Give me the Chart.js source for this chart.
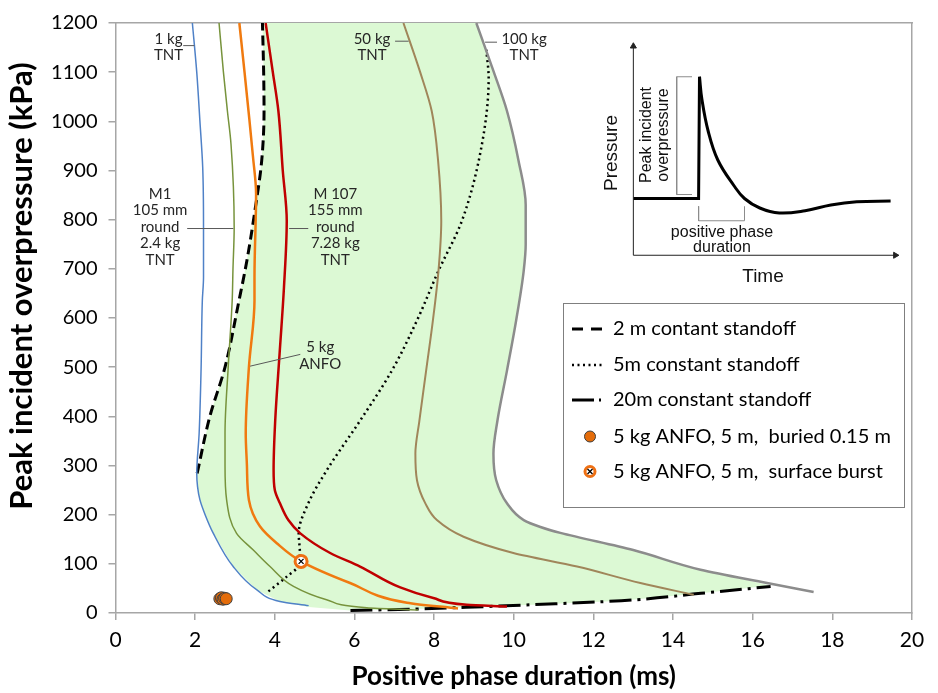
<!DOCTYPE html>
<html>
<head>
<meta charset="utf-8">
<title>Peak incident overpressure vs positive phase duration</title>
<script src="https://cdn.jsdelivr.net/npm/chart.js@4.4.1/dist/chart.umd.min.js"></script>
<style>
  body { margin: 0; background: #fff; }
  #wrap { position: relative; width: 938px; height: 693px; }
  #chartInset { position: absolute; left: 600px; top: 30px; }
</style>
</head>
<body>
<div id="wrap">
  <canvas id="chartMain" width="938" height="693"></canvas>
  <canvas id="chartInset" width="310" height="260"></canvas>
</div>
<script>
// charge curves: positive phase duration (ms) vs peak overpressure (kPa)
const tnt1X = [1.93, 2.04, 2.12, 2.19, 2.21, 2.21, 2.18, 2.15, 2.1, 2.04, 2.06, 2.12, 2.25, 2.45, 2.95, 3.55, 4.13, 4.85];
const tnt1Y = [1200, 1100, 1000, 906, 784, 683, 635, 500, 365, 284, 257, 230, 200, 163, 95, 47, 23.5, 15];

const m1X = [2.6, 2.71, 2.81, 2.9, 2.98, 2.95, 2.93, 2.83, 2.75, 2.75, 2.79, 3.04, 3.46, 3.88, 4.47, 5.3, 6.31, 7.6];
const m1Y = [1200, 1100, 1021, 954, 784, 700, 635, 500, 365, 300, 230, 162, 128, 94.5, 54, 27, 10.7, 6];

const anfoX = [3.11, 3.24, 3.34, 3.45, 3.53, 3.49, 3.49, 3.35, 3.27, 3.3, 3.35, 3.63, 4.05, 4.66, 5.89, 7.32, 8.6];
const anfoY = [1200, 1100, 1021, 930, 852, 683, 635, 500, 365, 300, 230, 176, 142, 105, 61, 21, 9];

const m107X = [3.77, 3.95, 4.09, 4.2, 4.3, 4.23, 4.12, 4.01, 3.97, 4.0, 4.13, 4.34, 4.64, 5.39, 6.14, 7.15, 7.98, 8.82, 9.83];
const m107Y = [1200, 1100, 1021, 900, 798, 662, 527, 391, 291, 250, 223, 189, 162, 122, 94.5, 52, 30.4, 16.8, 13];

const tnt50X = [7.23, 7.65, 7.94, 8.1, 8.18, 8.11, 7.97, 7.8, 7.63, 7.53, 7.57, 7.78, 8.07, 8.74, 9.99, 11.59, 13.18, 14.52];
const tnt50Y = [1200, 1100, 1021, 920, 798, 696, 595, 493, 391, 324, 270, 223, 189, 155, 122, 94.5, 61, 37];

const tnt100X = [9.06, 9.5, 9.83, 10.12, 10.3, 10.3, 10.25, 10.06, 9.83, 9.59, 9.49, 9.56, 9.83, 10.25, 10.67, 11.17, 13.0, 14.69, 16.36, 17.53];
const tnt100Y = [1200, 1100, 1021, 920, 830, 750, 696, 595, 493, 391, 324, 270, 223, 189, 175, 163, 128, 88, 61, 42.6];

// constant standoff lines
const standoff2X = [2.05, 2.37, 2.75, 3.1, 3.3, 3.5, 3.67, 3.73, 3.72, 3.69];
const standoff2Y = [284, 400, 500, 635, 717, 818, 919, 1021, 1100, 1200];

const standoff5X = [3.84, 4.3, 4.63, 4.63, 4.6, 4.84, 5.31, 6.14, 6.94, 7.57, 8.11, 8.7, 9.2, 9.37, 9.31];
const standoff5Y = [44, 74, 101, 122, 162, 223, 291, 391, 493, 595, 696, 798, 953, 1088, 1146];

const standoff20X = [5.9, 7.5, 8.8, 10.5, 12.7, 14.7, 16.45];
const standoff20Y = [5, 8, 11.5, 17, 25, 40, 54];

// shaded region outline
const areaX = [3.69, 3.72, 3.73, 3.67, 3.5, 3.3, 3.1, 2.75, 2.37, 2.05, 2.06, 2.12, 2.25, 2.45, 2.95, 3.55, 4.13, 4.85,
  5.9, 7.5, 8.8, 10.5, 12.7, 14.7, 16.45,
  14.69, 13.0, 11.17, 10.67, 10.25, 9.83, 9.56, 9.49, 9.59, 9.83, 10.06, 10.25, 10.3, 10.3, 10.12, 9.83, 9.5, 9.06];
const areaY = [1200, 1100, 1021, 919, 818, 717, 635, 500, 400, 284, 257, 230, 200, 163, 95, 47, 23.5, 12,
  5, 8, 11.5, 17, 25, 40, 56,
  88, 128, 163, 175, 189, 223, 270, 324, 391, 493, 595, 696, 750, 830, 920, 1021, 1100, 1200];

// measured points
const buriedX = [2.62, 2.66, 2.7, 2.74, 2.78];
const buriedY = [29, 31, 28, 30, 29];
const surfaceX = [4.66];
const surfaceY = [105];

// axis ticks
const xTickStep = 2;
const yTickStep = 100;

// inset sketch (arbitrary 0-100 units)
const waveStepX = [9.45, 31.2, 31.5];
const waveStepY = [34.6, 34.6, 83.3];
const waveDecayX = [31.5, 32.3, 34.4, 37.6, 43, 46.5, 51.6, 58.1, 66.7, 75.3, 83.9, 95.2];
const waveDecayY = [83.3, 74.3, 61.5, 50, 39.7, 34.6, 30.8, 28.8, 29.7, 32, 33.3, 33.6];

function toPoints(xs, ys) {
  return xs.map((x, i) => ({ x: x, y: ys[i] }));
}

// curves run top to bottom, so spline them along y
function curve(label, xs, ys, color, width, dash) {
  return {
    label: label,
    data: toPoints(xs, ys),
    showLine: true,
    indexAxis: 'y',
    cubicInterpolationMode: 'monotone',
    borderColor: color,
    borderWidth: width,
    borderDash: dash || [],
    pointRadius: 0,
    fill: false,
    order: 2
  };
}

const font = 'Lato, "Open Sans", sans-serif';

// labels next to the curves (data coords of first line centre)
const notes = [
  { text: ['1 kg', 'TNT'], x: 1.33, y: 1168, lead: [1.70, 1154, 1.98, 1154] },
  { text: ['50 kg', 'TNT'], x: 6.44, y: 1168, lead: [7.02, 1163, 7.36, 1163] },
  { text: ['100 kg', 'TNT'], x: 10.26, y: 1168, lead: [9.28, 1161, 9.58, 1161] },
  { text: ['M1', '105 mm', 'round', '2.4 kg', 'TNT'], x: 1.12, y: 852, lead: [1.80, 782, 2.96, 782] },
  { text: ['M 107', '155 mm', 'round', '7.28 kg', 'TNT'], x: 5.52, y: 852, lead: [4.36, 782, 4.84, 782] },
  { text: ['5 kg', 'ANFO'], x: 5.14, y: 540, lead: [3.38, 502, 4.64, 526] }
];

const notesPlugin = {
  id: 'notes',
  afterDatasetsDraw(chart) {
    const ctx = chart.ctx;
    const xs = chart.scales.x, ys = chart.scales.y;
    ctx.save();
    ctx.font = '15px ' + font;
    ctx.fillStyle = '#262626';
    ctx.textAlign = 'center';
    ctx.textBaseline = 'middle';
    notes.forEach(n => {
      const px = xs.getPixelForValue(n.x), py = ys.getPixelForValue(n.y);
      n.text.forEach((t, i) => ctx.fillText(t, px, py + i * 16.5));
      ctx.strokeStyle = '#595959';
      ctx.lineWidth = 1;
      ctx.beginPath();
      ctx.moveTo(xs.getPixelForValue(n.lead[0]), ys.getPixelForValue(n.lead[1]));
      ctx.lineTo(xs.getPixelForValue(n.lead[2]), ys.getPixelForValue(n.lead[3]));
      ctx.stroke();
    });

    // y axis title sits a little above the middle in the original
    ctx.fillStyle = '#000';
    ctx.font = 'bold 31px ' + font;
    ctx.translate(22, 286);
    ctx.rotate(-Math.PI / 2);
    ctx.fillText('Peak incident overpressure (kPa)', 0, 0);
    ctx.restore();
  }
};

// legend box
const legendItems = [
  '2 m contant standoff',
  '5m constant standoff',
  '20m constant standoff',
  '5 kg ANFO, 5 m,  buried 0.15 m',
  '5 kg ANFO, 5 m,  surface burst'
];

const legendPlugin = {
  id: 'boxLegend',
  afterDraw(chart) {
    const ctx = chart.ctx;
    const bx = 563, by = 303, bw = 341, bh = 204;
    ctx.save();
    ctx.fillStyle = '#fff';
    ctx.fillRect(bx, by, bw, bh);
    ctx.strokeStyle = '#7f7f7f';
    ctx.lineWidth = 1;
    ctx.strokeRect(bx + 0.5, by + 0.5, bw, bh);

    const rowY = [329, 365, 400, 436.5, 471.5];
    ctx.strokeStyle = '#000';
    ctx.lineWidth = 3;
    ctx.setLineDash([11, 8]);
    ctx.beginPath(); ctx.moveTo(572, rowY[0]); ctx.lineTo(605, rowY[0]); ctx.stroke();
    ctx.lineWidth = 2.5;
    ctx.setLineDash([2, 3.5]);
    ctx.beginPath(); ctx.moveTo(572, rowY[1]); ctx.lineTo(605, rowY[1]); ctx.stroke();
    ctx.lineWidth = 3;
    ctx.setLineDash([22, 5, 2, 20]);
    ctx.beginPath(); ctx.moveTo(572, rowY[2]); ctx.lineTo(605, rowY[2]); ctx.stroke();
    ctx.setLineDash([]);

    ctx.fillStyle = '#e46c0a';
    ctx.strokeStyle = '#404040';
    ctx.lineWidth = 1;
    ctx.beginPath(); ctx.arc(590, rowY[3], 5.5, 0, Math.PI * 2); ctx.fill(); ctx.stroke();

    ctx.fillStyle = '#fff';
    ctx.strokeStyle = '#ee7014';
    ctx.lineWidth = 3;
    ctx.beginPath(); ctx.arc(590, rowY[4], 5, 0, Math.PI * 2); ctx.fill(); ctx.stroke();
    ctx.strokeStyle = '#000';
    ctx.lineWidth = 1.3;
    ctx.beginPath();
    ctx.moveTo(587.5, rowY[4] - 2.5); ctx.lineTo(592.5, rowY[4] + 2.5);
    ctx.moveTo(592.5, rowY[4] - 2.5); ctx.lineTo(587.5, rowY[4] + 2.5);
    ctx.stroke();

    ctx.fillStyle = '#000';
    ctx.font = '20px ' + font;
    ctx.textAlign = 'left';
    ctx.textBaseline = 'middle';
    legendItems.forEach((t, i) => ctx.fillText(t, 613, rowY[i]));
    ctx.restore();
  }
};

const axisGray = '#a6a6a6';

new Chart(document.getElementById('chartMain'), {
  type: 'scatter',
  data: {
    datasets: [
      {
        label: 'area',
        data: toPoints(areaX, areaY),
        showLine: true,
        borderWidth: 0,
        borderColor: 'rgba(0,0,0,0)',
        backgroundColor: '#dcf9d4',
        fill: 'shape',
        pointRadius: 0,
        tension: 0,
        order: 10
      },
      curve('1 kg TNT', tnt1X, tnt1Y, '#4f81c7', 1.5),
      curve('M1 105 mm', m1X, m1Y, '#77933c', 1.5),
      curve('5 kg ANFO', anfoX, anfoY, '#f07a10', 2.5),
      curve('M 107 155 mm', m107X, m107Y, '#c00000', 2.5),
      curve('50 kg TNT', tnt50X, tnt50Y, '#a0865a', 2),
      curve('100 kg TNT', tnt100X, tnt100Y, '#8c8c8c', 2.5),
      curve('2 m contant standoff', standoff2X, standoff2Y, '#000', 3, [10, 5]),
      curve('5m constant standoff', standoff5X, standoff5Y, '#000', 2.5, [2, 3.5]),
      curve('20m constant standoff', standoff20X, standoff20Y, '#000', 3, [22, 6, 3, 6]),
      {
        label: '5 kg ANFO, 5 m, buried 0.15 m',
        data: toPoints(buriedX, buriedY),
        pointRadius: 6,
        pointBackgroundColor: '#e46c0a',
        pointBorderColor: '#404040',
        pointBorderWidth: 1,
        order: 1
      },
      {
        label: '5 kg ANFO, 5 m, surface burst',
        data: toPoints(surfaceX, surfaceY),
        pointRadius: 6,
        pointBackgroundColor: '#fff',
        pointBorderColor: '#ee7014',
        pointBorderWidth: 3,
        order: 1
      },
      {
        label: 'surface burst cross',
        data: toPoints(surfaceX, surfaceY),
        pointStyle: 'crossRot',
        pointRadius: 3.5,
        pointBorderColor: '#000',
        pointBorderWidth: 1.3,
        order: 0
      }
    ]
  },
  options: {
    responsive: false,
    animation: false,
    devicePixelRatio: 1,
    layout: { padding: { top: 22, right: 26, left: 0, bottom: 0 } },
    plugins: { legend: { display: false }, tooltip: { enabled: false } },
    scales: {
      x: {
        type: 'linear', position: 'bottom', min: 0, max: 20,
        ticks: { stepSize: xTickStep, color: '#000', font: { family: font, size: 21 }, padding: 8 },
        grid: { drawOnChartArea: false, tickLength: 7, color: axisGray, lineWidth: 1.5 },
        border: { color: axisGray, width: 1.5 },
        title: { display: true, text: 'Positive phase duration (ms)', color: '#000',
          font: { family: font, size: 26, weight: 'bold' }, padding: { top: 0, bottom: 1 } },
        afterFit: s => { s.height = 80; }
      },
      y: {
        type: 'linear', position: 'left', min: 0, max: 1200,
        ticks: { stepSize: yTickStep, color: '#000', font: { family: font, size: 20 }, padding: 11,
          callback: v => String(v) },
        grid: { drawOnChartArea: false, tickLength: 7, color: axisGray, lineWidth: 1.5 },
        border: { color: axisGray, width: 1.5 },
        afterFit: s => { s.width = 115.5; }
      },
      xTop: {
        type: 'linear', position: 'top', min: 0, max: 20,
        ticks: { display: false }, grid: { display: false },
        border: { color: axisGray, width: 1.5 },
        afterFit: s => { s.height = 0; }
      },
      yRight: {
        type: 'linear', position: 'right', min: 0, max: 1200,
        ticks: { display: false }, grid: { display: false },
        border: { color: axisGray, width: 1.5 },
        afterFit: s => { s.width = 0; }
      }
    }
  },
  plugins: [notesPlugin, legendPlugin]
});

// inset: pressure-time sketch
const insetText = {
  id: 'insetText',
  afterDraw(chart) {
    const ctx = chart.ctx;
    ctx.save();
    ctx.fillStyle = '#111';
    ctx.textAlign = 'center';
    ctx.textBaseline = 'middle';
    ctx.font = '19px "Liberation Sans", Arial, sans-serif';
    ctx.fillText('Time', 163, 247);
    ctx.save();
    ctx.translate(12, 123);
    ctx.rotate(-Math.PI / 2);
    ctx.fillText('Pressure', 0, 0);
    ctx.restore();
    ctx.font = '16px "Liberation Sans", Arial, sans-serif';
    ctx.fillText('positive phase', 122, 203);
    ctx.fillText('duration', 122, 218);
    ctx.save();
    ctx.translate(47, 105);
    ctx.rotate(-Math.PI / 2);
    ctx.fillText('Peak incident', 0, 0);
    ctx.fillText('overpressure', 0, 16.5);
    ctx.restore();
    ctx.restore();
  }
};

function insetLine(xs, ys, color, width, tension) {
  return { data: toPoints(xs, ys), showLine: true, borderColor: color, borderWidth: width,
    pointRadius: 0, tension: tension || 0, fill: false };
}

new Chart(document.getElementById('chartInset'), {
  type: 'scatter',
  data: {
    datasets: [
      Object.assign(insetLine([9.45, 9.45], [11.9, 95.5], '#222', 1), {
        pointRadius: [0, 3.5], pointStyle: 'triangle', pointBackgroundColor: '#222', pointBorderColor: '#222' }),
      Object.assign(insetLine([9.45, 96.8], [11.9, 11.9], '#222', 1), {
        pointRadius: [0, 3.5], pointStyle: 'triangle', pointRotation: 90, pointBackgroundColor: '#222', pointBorderColor: '#222' }),
      insetLine(waveStepX, waveStepY, '#000', 3),
      insetLine(waveDecayX, waveDecayY, '#000', 3, 0.4),
      insetLine([29, 23.9, 23.9, 29], [83.3, 83.3, 36.2, 36.2], '#8c8c8c', 1),
      insetLine([31.2, 31.2, 46.5, 46.5], [31.5, 25.7, 25.7, 31.5], '#8c8c8c', 1)
    ]
  },
  options: {
    responsive: false,
    animation: false,
    devicePixelRatio: 1,
    plugins: { legend: { display: false }, tooltip: { enabled: false } },
    scales: {
      x: { type: 'linear', min: 0, max: 100, display: false },
      y: { type: 'linear', min: 0, max: 100, display: false }
    }
  },
  plugins: [insetText]
});
</script>
</body>
</html>
